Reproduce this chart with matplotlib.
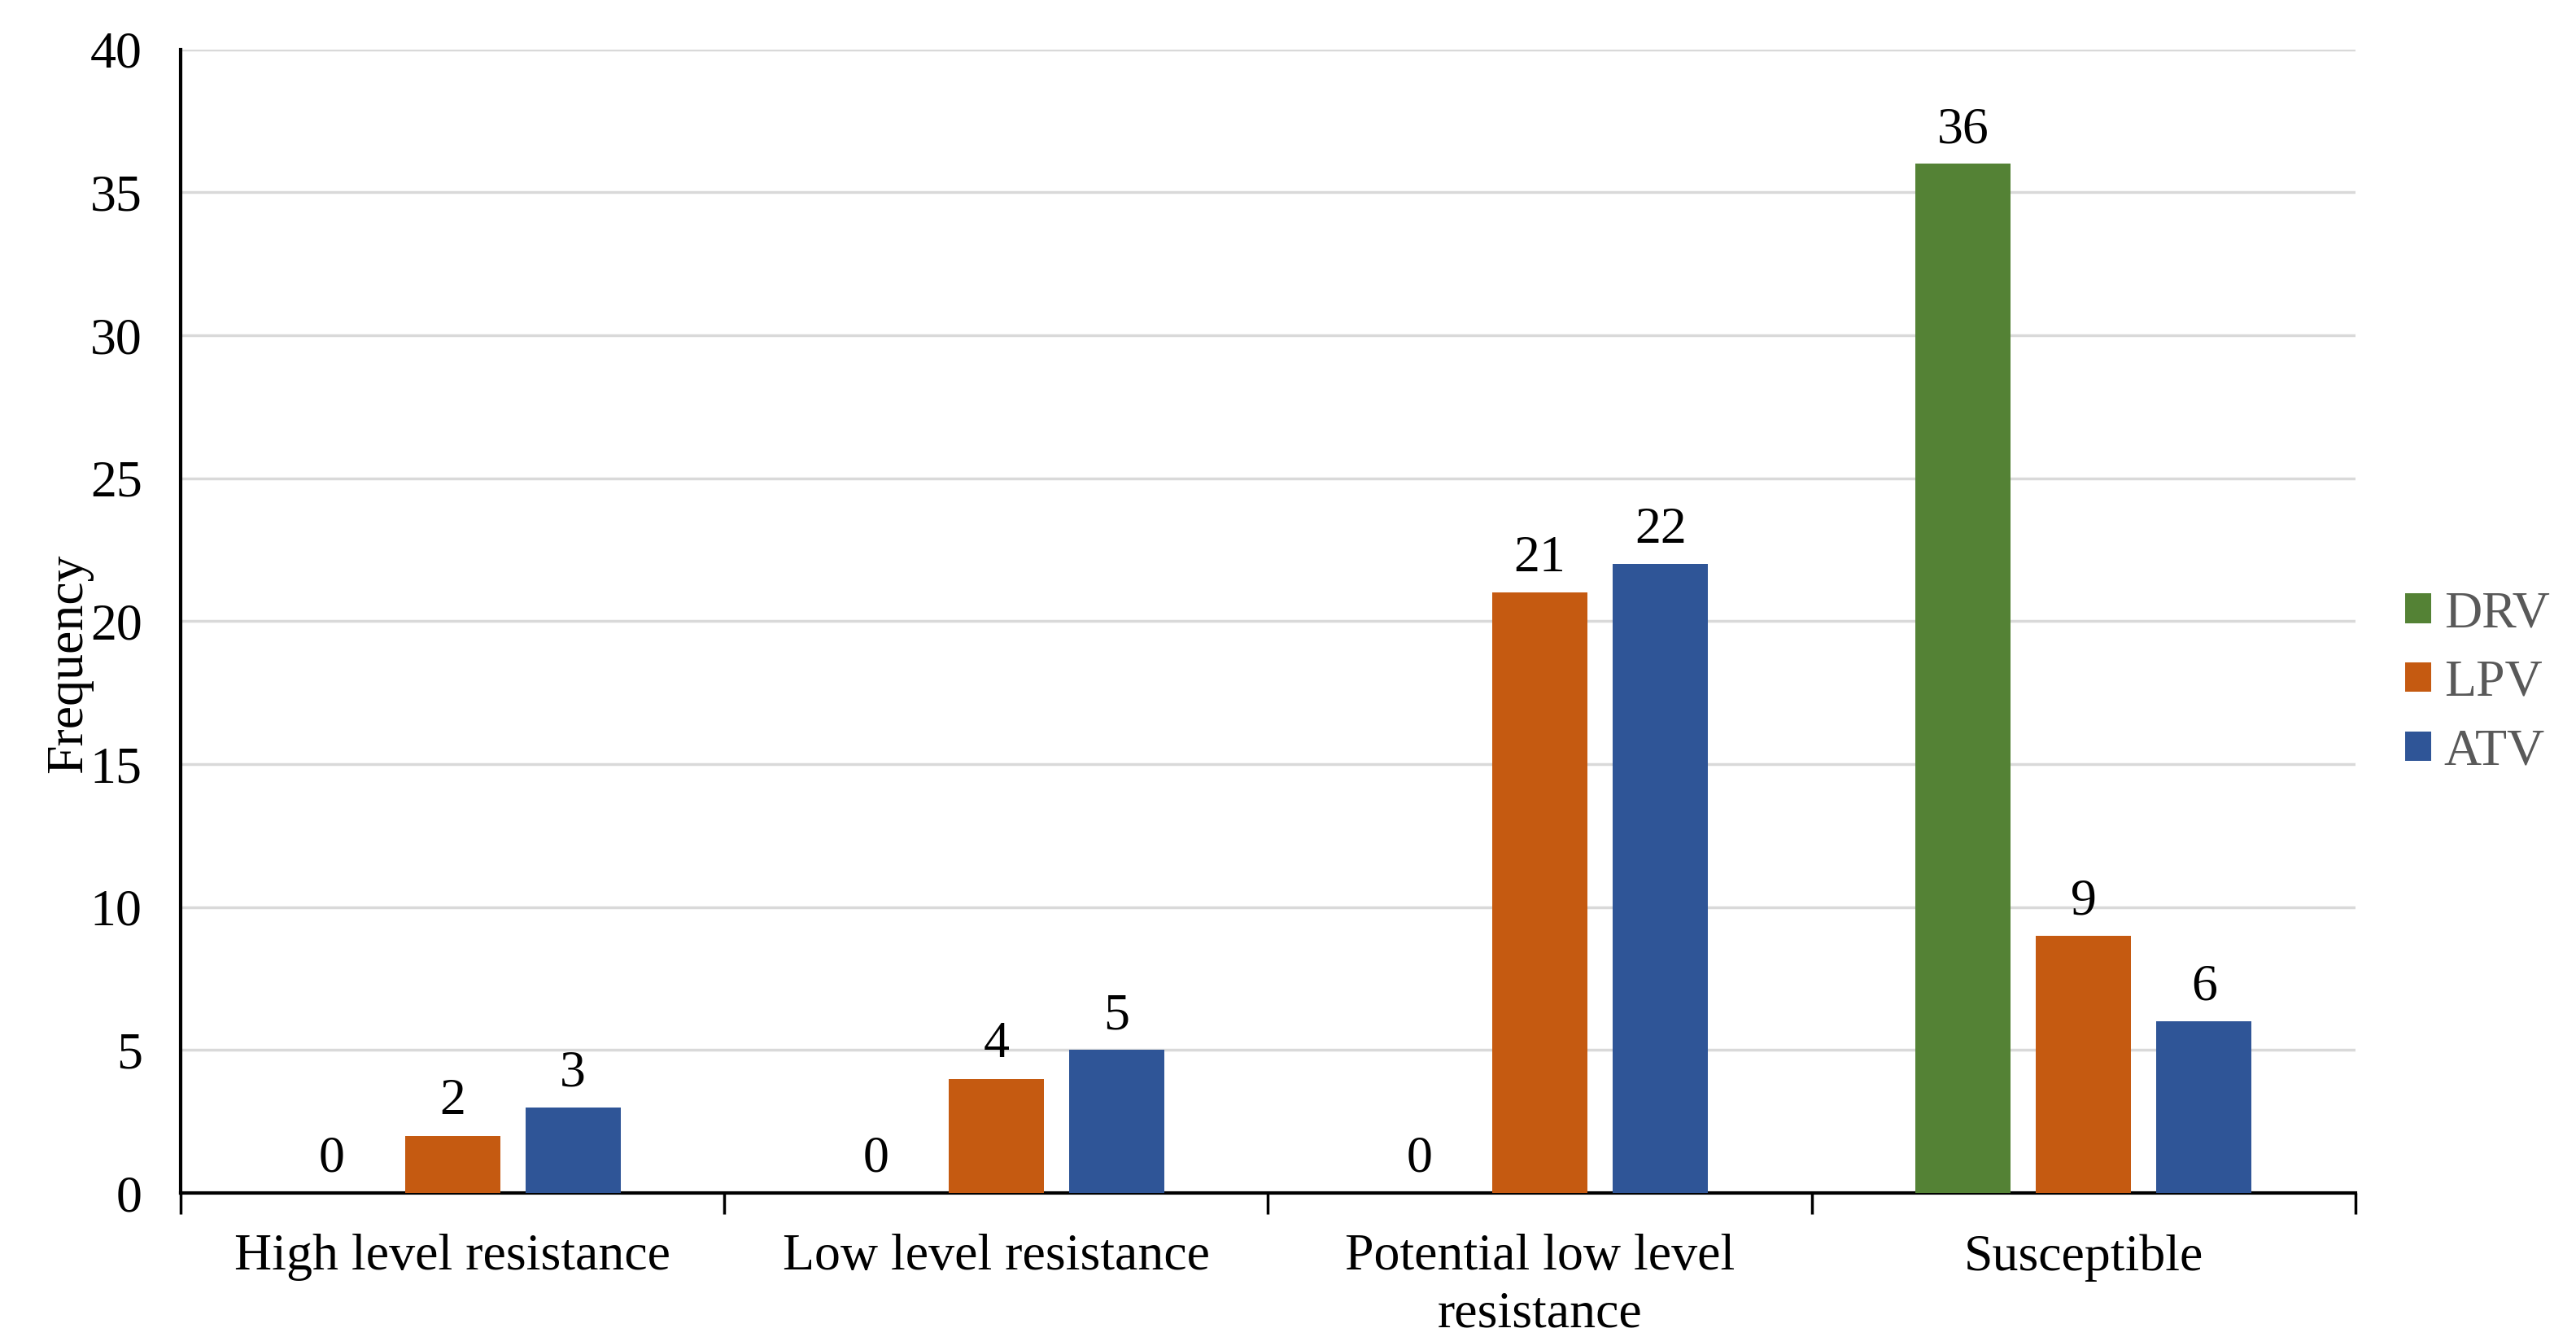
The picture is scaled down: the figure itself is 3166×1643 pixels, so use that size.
import matplotlib
matplotlib.use("Agg")
import matplotlib.pyplot as plt
import numpy as np

categories = ["High level resistance", "Low level resistance",
              "Potential low level\nresistance", "Susceptible"]
series_names = ["DRV", "LPV", "ATV"]
drv = [0, 0, 0, 36]
lpv = [2, 4, 21, 9]
atv = [3, 5, 22, 6]
y_ticks = [0, 5, 10, 15, 20, 25, 30, 35, 40]

colors = ["#548235", "#C55A11", "#2F5597"]

plt.rcParams['font.family'] = 'Liberation Serif'

fig = plt.figure(figsize=(31.66, 16.43), dpi=100)
ax = fig.add_axes([0.0701, 0.1077, 0.8443, 0.8553])

x = np.arange(len(categories))
width = 0.175
step = 0.2216
for j, (name, vals) in enumerate(zip(series_names, [drv, lpv, atv])):
    pos = x + (j - 1) * step
    ax.bar(pos, vals, width, color=colors[j], label=name, zorder=3)
    for p, v in zip(pos, vals):
        ax.text(p, v + 0.35, str(v), ha='center', va='bottom', fontsize=46,
                color='black', family='Liberation Serif')

ax.set_xlim(-0.5, len(categories) - 0.5)
ax.set_ylim(0, 40)
ax.set_yticks(y_ticks)
ax.set_yticklabels([str(t) for t in y_ticks], fontsize=46, family='Liberation Serif')
ax.tick_params(axis='y', length=0, pad=34)
ax.yaxis.grid(True, color='#d9d9d9', linewidth=2.5, zorder=0)
ax.set_axisbelow(True)

ax.set_xticks(x)
ax.set_xticklabels(categories, fontsize=46, linespacing=1.28, family='Liberation Serif')
ax.tick_params(axis='x', which='major', length=0, pad=36)
ax.set_xticks(np.arange(-0.5, len(categories)), minor=True)
ax.tick_params(axis='x', which='minor', length=19, width=2.5, direction='out', color='black')

for s in ['top', 'right']:
    ax.spines[s].set_visible(False)
for s in ['left', 'bottom']:
    ax.spines[s].set_linewidth(3)
    ax.spines[s].set_color('black')

ax.set_ylabel("Frequency", fontsize=46, family='Liberation Serif')
ax.yaxis.set_label_coords(-0.051, 0.463)
ax.yaxis.label.set_va('center')

leg = ax.legend(loc='center left', bbox_to_anchor=(1.0228, 0.4456), frameon=False,
                prop={'family': 'Liberation Serif', 'size': 46},
                handlelength=0.5, handleheight=0.5,
                handletextpad=0.25, labelspacing=0.42, borderaxespad=0, borderpad=0)
for t in leg.get_texts():
    t.set_color('#595959')

fig.savefig("out.png", dpi=100)
